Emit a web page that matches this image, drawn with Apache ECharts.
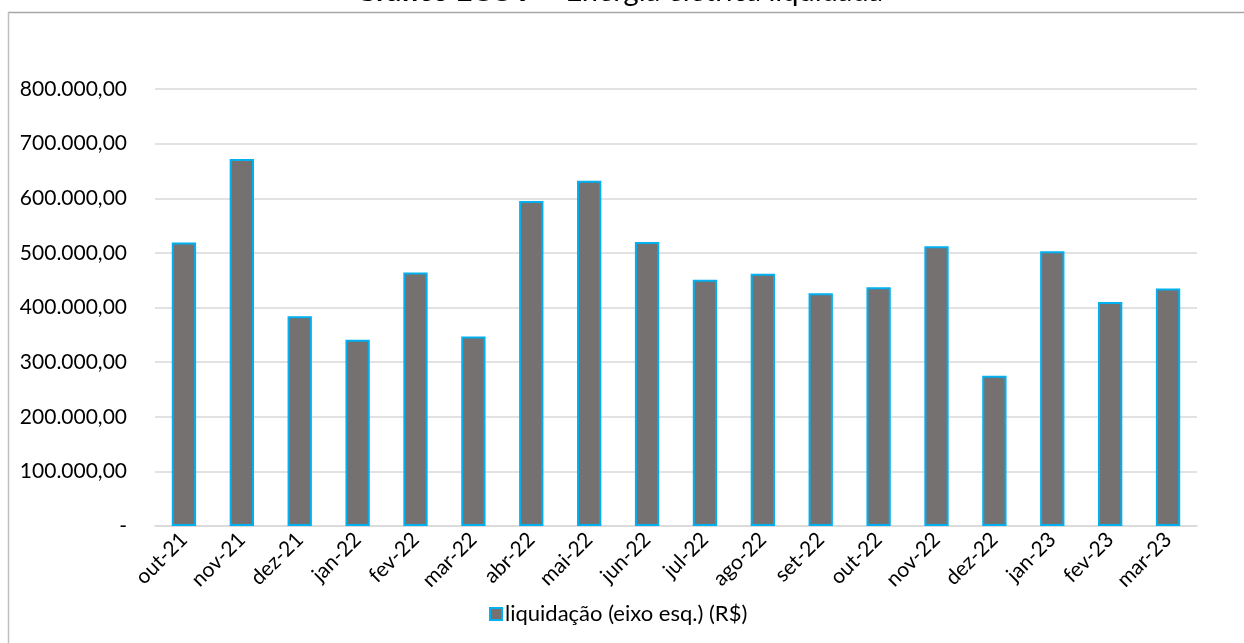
<!DOCTYPE html>
<html>
<head>
<meta charset="utf-8">
<script src="https://cdn.jsdelivr.net/npm/echarts@6/dist/echarts.min.js"></script>
<style>
  html, body { margin: 0; padding: 0; background: #fff; }
  #chart { width: 1244px; height: 643px; }
</style>
</head>
<body>
<div id="chart"></div>
<script>
// meses (eixo x)
var months = ['out-21', 'nov-21', 'dez-21', 'jan-22', 'fev-22', 'mar-22', 'abr-22', 'mai-22', 'jun-22',
  'jul-22', 'ago-22', 'set-22', 'out-22', 'nov-22', 'dez-22', 'jan-23', 'fev-23', 'mar-23'];
// liquidação em R$
var liquidacao = [519000, 672000, 384000, 341000, 464000, 347000, 595000, 632000, 520000,
  451000, 462000, 426000, 437000, 512000, 275000, 503000, 410000, 435000];
var seriesName = 'liquidação (eixo esq.) (R$)';

var FONT = 'Lato, "Open Sans", sans-serif';

function fmtBR(v) {
  if (v === 0) return '-';
  var s = Math.round(v).toString().replace(/\B(?=(\d{3})+(?!\d))/g, '.');
  return s + ',00';
}

var chart = echarts.init(document.getElementById('chart'));
chart.setOption({
  backgroundColor: '#fff',
  animation: false,
  textStyle: { fontFamily: FONT },
  graphic: [
    { type: 'line', shape: { x1: 8, y1: 12.5, x2: 1244, y2: 12.5 }, style: { stroke: '#a6a6a6', lineWidth: 1.5 } },
    { type: 'line', shape: { x1: 8.5, y1: 12, x2: 8.5, y2: 643 }, style: { stroke: '#bfbfbf', lineWidth: 1.5 } },
    {
      type: 'text', x: 619, y: -8,
      style: {
        text: '{b|Gráfico ECC 9} – Energia elétrica liquidada',
        rich: { b: { fontWeight: 'bold', fontSize: 29, fontFamily: FONT, fill: '#000' } },
        fontSize: 29, fontFamily: FONT, fill: '#000',
        textAlign: 'center', textVerticalAlign: 'middle'
      }
    }
  ],
  legend: {
    data: [seriesName],
    left: 484, top: 598,
    icon: 'rect', itemWidth: 12, itemHeight: 12, itemGap: 4,
    textStyle: { fontSize: 22, color: '#000', fontFamily: FONT, padding: [0, 0, 0, -2] }
  },
  grid: { left: 155, right: 47, top: 89, bottom: 117 },
  xAxis: {
    type: 'category',
    data: months,
    axisLine: { lineStyle: { color: '#d9d9d9', width: 1.5 } },
    axisTick: { show: false },
    axisLabel: { rotate: 45, fontSize: 21, color: '#000', margin: 10, interval: 0, fontFamily: FONT }
  },
  yAxis: {
    type: 'value',
    min: 0, max: 800000, interval: 100000,
    axisLine: { show: false },
    axisTick: { show: false },
    splitLine: { lineStyle: { color: '#d9d9d9', width: 1.5 } },
    axisLabel: { fontSize: 21, color: '#000', margin: 28, formatter: fmtBR, fontFamily: FONT }
  },
  series: [{
    name: seriesName,
    type: 'bar',
    data: liquidacao,
    barWidth: '42%',
    itemStyle: { color: '#767171', borderColor: '#00b0f0', borderWidth: 2 }
  }]
});
</script>
</body>
</html>
